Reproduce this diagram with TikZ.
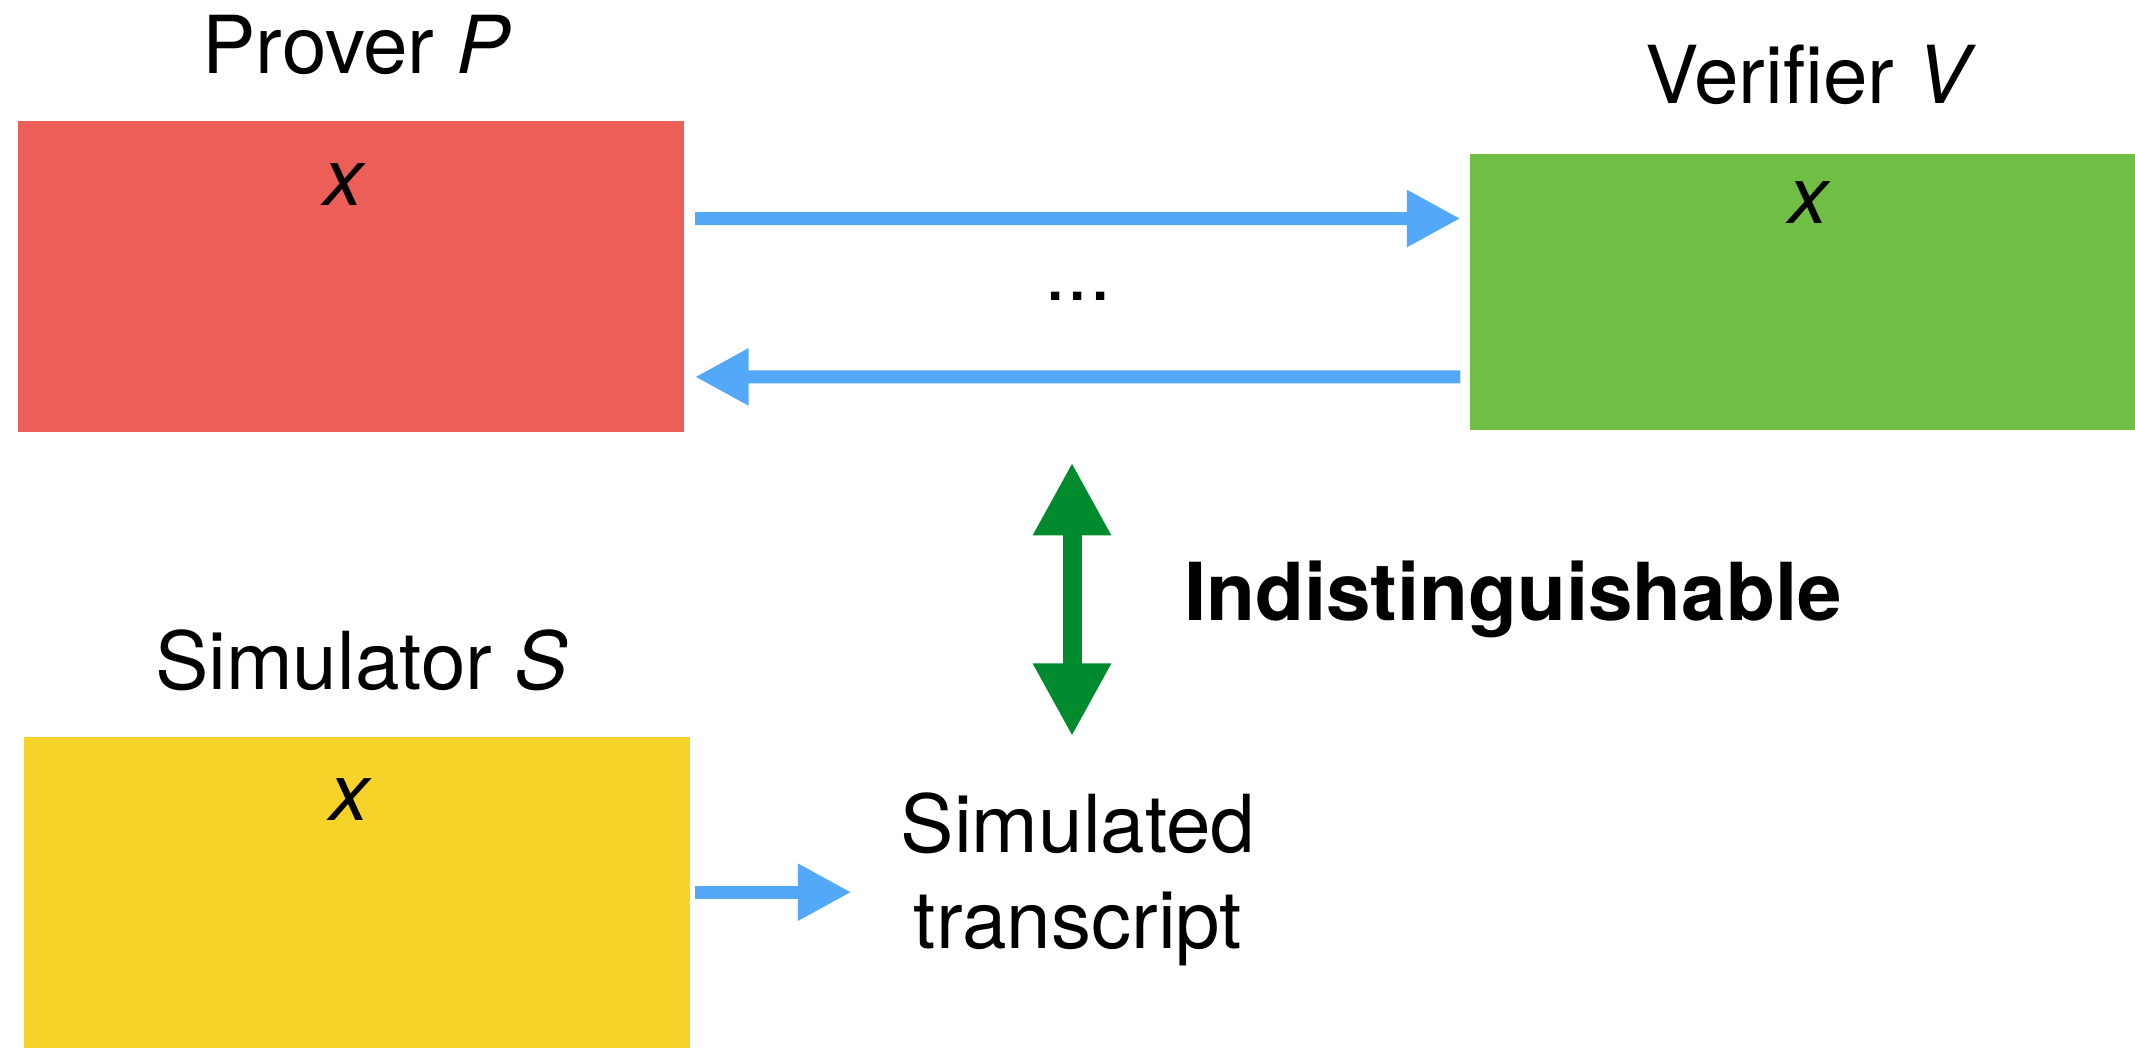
\documentclass[tikz,border=0pt]{standalone}
\usepackage{fontspec}
\setmainfont{TeX Gyre Heros}
\usetikzlibrary{arrows.meta,calc}
\definecolor{pred}{HTML}{EC5F59}
\definecolor{pgreen}{HTML}{70BF44}
\definecolor{pyellow}{HTML}{F5D329}
\definecolor{pblue}{HTML}{53A8F8}
\definecolor{dgreen}{HTML}{008A2E}
\begin{document}
\begin{tikzpicture}[x=1pt,y=-1pt,
  box/.style={inner sep=0pt, outer sep=0pt, draw=none},
  lbl/.style={inner sep=0pt, outer sep=0pt, anchor=base, font=\fontsize{80}{96.6}\selectfont},
  barrow/.style={draw=pblue, line width=13pt, -{Triangle[length=53.6pt,width=53.6pt]}},
  garrow/.style={draw=dgreen, line width=19pt, {Triangle[length=73pt,width=73pt]}-{Triangle[length=73pt,width=73pt]}}]
\useasboundingbox (0,0) rectangle (2135,1050);
% boxes
\node[box, fill=pred, minimum width=665.8pt, minimum height=310.4pt] (prover) at (350.6,276.4) {};
\node[box, fill=pgreen, minimum width=664.5pt, minimum height=276.4pt] (verifier) at (1802.7,292.1) {};
\node[box, fill=pyellow, minimum width=666pt, minimum height=311pt] (sim) at (357,892.2) {};
% titles
\node[lbl] (plabel) at (357,73) {Prover \textit{P}};
\node[lbl] (vlabel) at (1811,103.3) {Verifier \textit{V}};
\node[lbl] (slabel) at (361.5,689.3) {Simulator \textit{S}};
% inputs
\node[lbl] (px) at (345,205) {\textit{x}};
\node[lbl] (vx) at (1810,223.3) {\textit{x}};
\node[lbl] (sx) at (351,820) {\textit{x}};
% dots
\node[lbl] (dots) at (1078,300.7) {...};
% indistinguishable
\node[lbl, anchor=base west, font=\fontsize{80}{96.6}\selectfont\bfseries] (ind) at (1184,620.7) {Indistinguishable};
% transcript
\node[lbl, align=center] (trans) at (1078,948.6) {Simulated\\transcript};
% arrows
\draw[barrow] ([xshift=11.5pt,yshift=57.8pt]prover.east) -- ([xshift=-10pt,yshift=73.6pt]verifier.west);
\draw[barrow] ([xshift=-10pt,yshift=-84.7pt]verifier.west) -- ([xshift=11.5pt,yshift=-100.5pt]prover.east);
\draw[barrow] ([xshift=5.3pt]sim.east) -- ($(sim.east)+(161.4,0)$);
\coordinate (gtop) at (1072,462.4);
\coordinate (gbot) at (1072,736.4);
\draw[garrow] (gtop) -- (gbot);
\end{tikzpicture}
\end{document}
